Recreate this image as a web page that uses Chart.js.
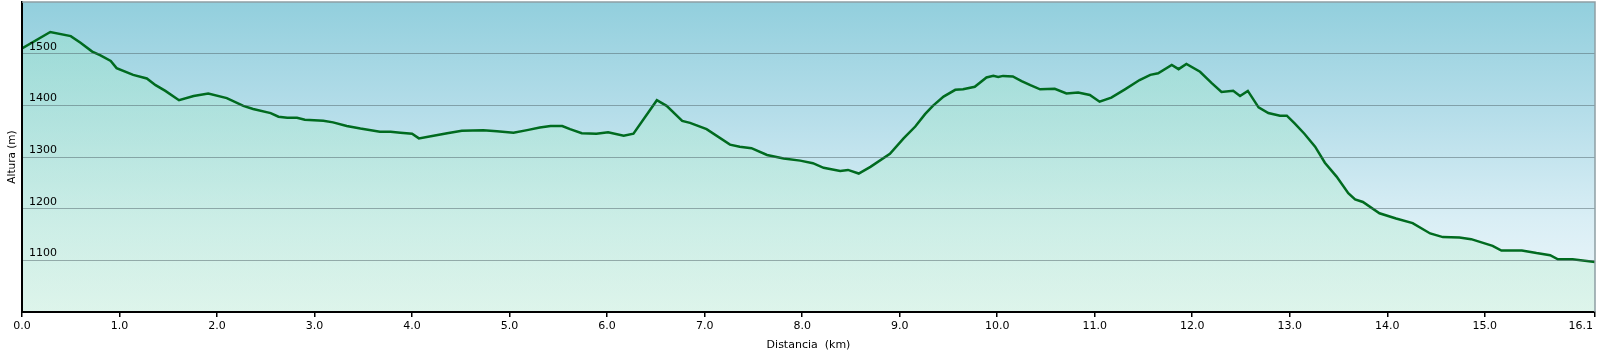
<!DOCTYPE html>
<html>
<head>
<meta charset="utf-8">
<script src="https://cdn.jsdelivr.net/npm/chart.js@4"></script>
<style>
  html, body { margin: 0; padding: 0; background: #fff; }
  #wrap { width: 1600px; height: 360px; }
</style>
</head>
<body>
<div id="wrap"><canvas id="perfil" width="1600" height="360"></canvas></div>
<script>
const distKm = [
  0.00, 0.29, 0.50, 0.60, 0.72, 0.80, 0.91, 0.97, 1.14, 1.28, 1.37, 1.47, 1.61, 1.76, 1.91,
  2.10, 2.27, 2.37, 2.55, 2.63, 2.72, 2.82, 2.90, 3.09, 3.19, 3.33, 3.47, 3.67, 3.78, 3.88,
  4.00, 4.07, 4.22, 4.36, 4.51, 4.73, 4.87, 5.04, 5.18, 5.31, 5.42, 5.54, 5.62, 5.74, 5.89,
  6.01, 6.17, 6.27, 6.51, 6.61, 6.77, 6.85, 7.02, 7.26, 7.36, 7.48, 7.64, 7.81, 7.98,
  8.11, 8.22, 8.39, 8.47, 8.58, 8.70, 8.90, 9.04, 9.16, 9.26, 9.34, 9.45, 9.57, 9.65, 9.77,
  9.89, 9.96, 10.01, 10.06, 10.16, 10.25, 10.34, 10.44, 10.59, 10.71, 10.83, 10.95, 11.05,
  11.17, 11.31, 11.46, 11.57, 11.65, 11.79, 11.86, 11.94, 12.08, 12.20, 12.30, 12.42, 12.49,
  12.57, 12.68, 12.78, 12.90, 12.97, 13.05, 13.15, 13.26, 13.36, 13.48, 13.60, 13.67, 13.75,
  13.92, 14.09, 14.26, 14.44, 14.57, 14.74, 14.86, 15.08, 15.17, 15.38, 15.53, 15.67, 15.75,
  15.90, 16.13
];
const alturaM = [
  1510, 1542, 1534, 1521, 1504, 1497, 1486, 1472, 1459, 1452, 1439, 1428, 1410, 1418, 1423,
  1414, 1399, 1393, 1385, 1378, 1376, 1376, 1372, 1370, 1367, 1360, 1355, 1349, 1349, 1347,
  1345, 1336, 1341, 1346, 1351, 1352, 1350, 1347, 1352, 1357, 1360, 1360, 1354, 1346, 1345,
  1348, 1341, 1345, 1410, 1399, 1370, 1366, 1354, 1324, 1320, 1317, 1304, 1297, 1293,
  1288, 1279, 1273, 1275, 1268, 1281, 1306, 1336, 1359, 1383, 1399, 1417, 1430, 1431, 1436,
  1454, 1457, 1455, 1457, 1456, 1447, 1439, 1431, 1432, 1423, 1425, 1420, 1407,
  1415, 1431, 1449, 1459, 1462, 1478, 1470, 1480, 1465, 1443, 1426, 1428, 1418,
  1428, 1396, 1385, 1380, 1380, 1365, 1345, 1320, 1289, 1262, 1230, 1218, 1213,
  1191, 1181, 1172, 1152, 1145, 1144, 1141, 1128, 1119, 1119, 1114, 1110, 1102,
  1102, 1097
];
const xTicks = [0, 1, 2, 3, 4, 5, 6, 7, 8, 9, 10, 11, 12, 13, 14, 15, 16.13];
const yTicks = [1100, 1200, 1300, 1400, 1500];
const X_MAX = 16.13;

const FONT = "'DejaVu Sans', Verdana, sans-serif";

// fondo degradado del area, marco superior/derecho y etiqueta final del eje x
const fondo = {
  id: "fondo",
  beforeDraw(chart) {
    const { ctx, chartArea: a } = chart;
    const g = ctx.createLinearGradient(0, a.top, 0, a.bottom);
    g.addColorStop(0, "#92cfdd");
    g.addColorStop(0.35, "#b4dde9");
    g.addColorStop(0.7, "#d9eef5");
    g.addColorStop(1, "#eff8fb");
    ctx.save();
    ctx.fillStyle = g;
    ctx.fillRect(a.left, a.top, a.right - a.left, a.bottom - a.top);
    ctx.restore();
  },
  afterDraw(chart) {
    const { ctx, chartArea: a } = chart;
    const xs = chart.scales.x;
    ctx.save();
    ctx.strokeStyle = "#8e9ea4";
    ctx.lineWidth = 1.5;
    ctx.beginPath();
    ctx.moveTo(a.left, a.top);
    ctx.lineTo(a.right, a.top);
    ctx.lineTo(a.right, a.bottom);
    ctx.stroke();
    // ultima etiqueta alineada a la derecha, como en el original
    ctx.fillStyle = "#000";
    ctx.font = "11px " + FONT;
    ctx.textAlign = "right";
    ctx.textBaseline = "top";
    ctx.fillText(X_MAX.toFixed(1), xs.getPixelForValue(X_MAX) - 2, a.bottom + 9);
    ctx.restore();
  }
};

function fillGradient(context) {
  const a = context.chart.chartArea;
  if (!a) return "rgba(150,220,200,0.4)";
  const g = context.chart.ctx.createLinearGradient(0, a.top, 0, a.bottom);
  g.addColorStop(0, "rgba(150,228,200,0.4)");
  g.addColorStop(1, "rgba(200,240,215,0.45)");
  return g;
}

new Chart(document.getElementById("perfil"), {
  type: "line",
  data: {
    datasets: [{
      data: distKm.map((d, i) => ({ x: d, y: alturaM[i] })),
      borderColor: "#006b1f",
      borderWidth: 2.5,
      backgroundColor: fillGradient,
      fill: "origin",
      pointRadius: 0,
      tension: 0
    }]
  },
  options: {
    responsive: false,
    animation: false,
    layout: { padding: { top: 2, right: 5, left: 0, bottom: 0 } },
    plugins: { legend: { display: false }, tooltip: { enabled: false } },
    scales: {
      x: {
        type: "linear",
        min: 0,
        max: X_MAX,
        afterBuildTicks: (s) => { s.ticks = xTicks.map((v) => ({ value: v })); },
        afterFit: (s) => { s.height = 48; s.paddingLeft = 0; s.paddingRight = 0; },
        border: { color: "#000", width: 2, z: 1 },
        grid: { drawOnChartArea: false, drawTicks: true, tickLength: 5, color: "#000", lineWidth: 1.5 },
        ticks: {
          autoSkip: false,
          maxRotation: 0,
          padding: 3,
          color: "#000",
          font: { family: FONT, size: 11 },
          callback: (v) => (v === X_MAX ? "" : Number(v).toFixed(1))
        },
        title: {
          display: true,
          text: "Distancia  (km)",
          color: "#000",
          font: { family: FONT, size: 11 },
          padding: { top: 0, bottom: 8 }
        }
      },
      y: {
        min: 1000,
        max: 1600,
        afterBuildTicks: (s) => { s.ticks = yTicks.map((v) => ({ value: v })); },
        afterFit: (s) => { s.width = 22; s.paddingTop = 0; s.paddingBottom = 0; },
        border: { color: "#000", width: 2, z: 1 },
        grid: { z: 1, drawTicks: false, color: "rgba(80,100,105,0.5)", lineWidth: 1 },
        ticks: {
          z: 1,
          mirror: true,
          padding: 7,
          labelOffset: -7,
          color: "#000",
          font: { family: FONT, size: 11 },
          callback: (v) => String(v)
        },
        title: {
          display: true,
          text: "Altura (m)",
          color: "#000",
          font: { family: FONT, size: 10.5 },
          padding: { top: 6, bottom: 0 }
        }
      }
    }
  },
  plugins: [fondo]
});
</script>
</body>
</html>
